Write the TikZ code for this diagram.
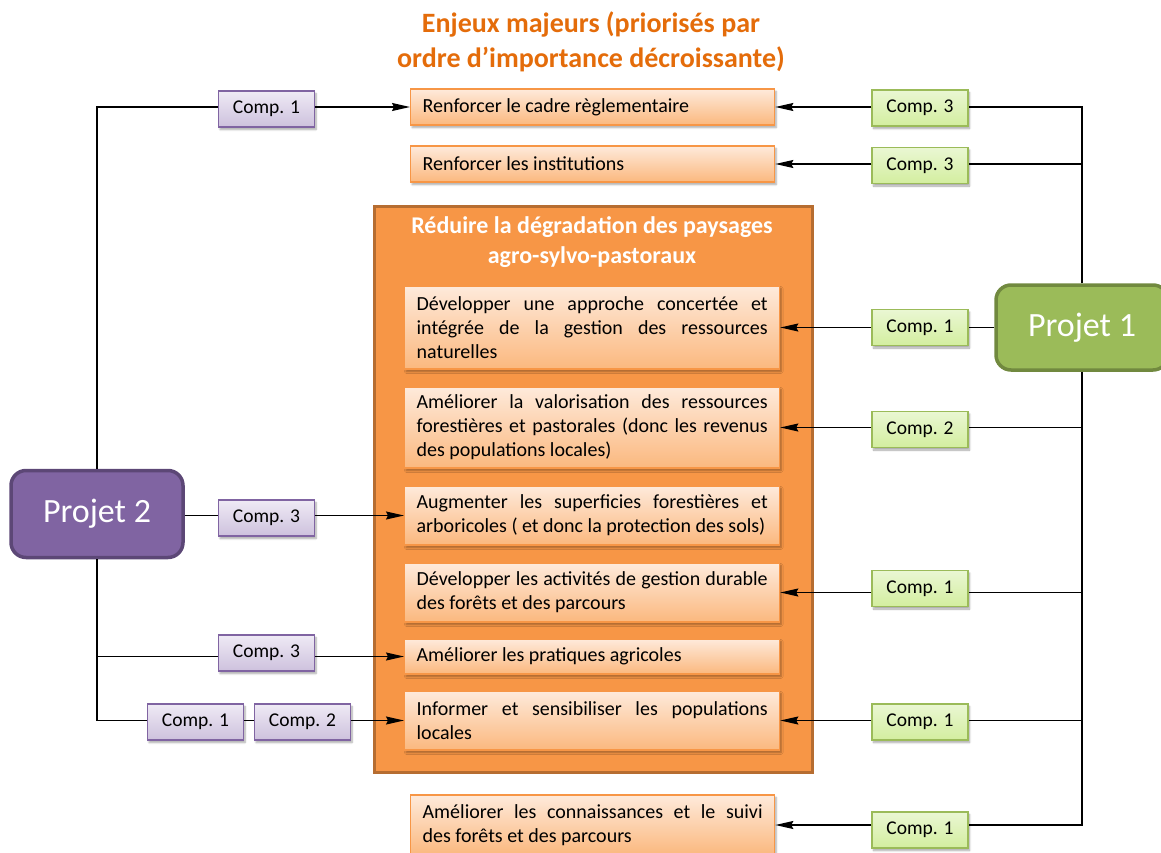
\documentclass[tikz,border=0pt]{standalone}
\usepackage{fontspec}
\setmainfont{Carlito}
\usetikzlibrary{arrows.meta,shadows.blur}
\definecolor{titleor}{HTML}{E46C0A}
\definecolor{bigfill}{HTML}{F79646}
\definecolor{bigdraw}{HTML}{B66D31}
\definecolor{ortop}{HTML}{FEEADB}
\definecolor{orbot}{HTML}{FBB87E}
\definecolor{ordraw}{HTML}{F79646}
\definecolor{grtop}{HTML}{EAF7D3}
\definecolor{grbot}{HTML}{D3EE9F}
\definecolor{grdraw}{HTML}{9BBB59}
\definecolor{putop}{HTML}{EFEAF5}
\definecolor{pubot}{HTML}{CDC1DD}
\definecolor{pudraw}{HTML}{8064A2}
\definecolor{p1fill}{HTML}{9BBB59}
\definecolor{p1draw}{HTML}{71893F}
\definecolor{p2fill}{HTML}{8064A2}
\definecolor{p2draw}{HTML}{5C4776}
\tikzset{
  conn/.style={line width=1.3pt, black},
  arr/.style={conn, -{Stealth[length=18pt,width=8pt,inset=2pt]}},
  shad/.style={blur shadow={shadow xshift=1.5pt, shadow yshift=-2.5pt, shadow blur steps=6, shadow opacity=35}},
  itembox/.style={shad, draw=ordraw, line width=1.3pt, top color=ortop, bottom color=orbot,
    align=justify, inner xsep=12pt, inner ysep=3pt, anchor=west,
    font=\fontsize{20}{24}\selectfont},
  outitem/.style={itembox, text width=340pt},
  initem/.style={itembox, text width=351pt},
  compbox/.style={shad, line width=1.3pt, minimum width=96pt, minimum height=36pt, inner sep=0pt,
    font=\fontsize{19.5}{22}\selectfont},
  compg/.style={compbox, draw=grdraw, top color=grtop, bottom color=grbot},
  compp/.style={compbox, draw=pudraw, top color=putop, bottom color=pubot},
  projbox/.style={line width=3.5pt, rounded corners=15pt, text=white, inner sep=0pt,
    font=\fontsize{34}{40}\selectfont},
  bigbox/.style={fill=bigfill, draw=bigdraw, line width=3pt, inner sep=0pt},
}
\begin{document}
\begin{tikzpicture}[x=1pt,y=-1pt]
\useasboundingbox (0,0) rectangle (1161,853);
% title
\node[text=titleor, font=\bfseries\fontsize{28}{35}\selectfont, align=center] (title) at (591,42)
  {Enjeux majeurs (priorisés par\\ordre d’importance décroissante)};
% big container
\node[bigbox, minimum width=438pt, minimum height=566pt] (big) at (593,489) {};
\node[text=white, font=\bfseries\fontsize{24}{30}\selectfont, align=center] (bigtitle) at (592,242)
  {Réduire la dégradation des paysages\\agro-sylvo-pastoraux};
% items
\node[outitem, minimum height=36pt] (b1) at (410,107) {Renforcer le cadre règlementaire};
\node[outitem, minimum height=36pt] (b2) at (410,164) {Renforcer les institutions};
\node[initem, minimum height=83pt] (b3) at (404,327.5)
  {Développer une approche concertée et\linebreak intégrée de la gestion des ressources\linebreak naturelles};
\node[initem, minimum height=81pt] (b4) at (404,427.5)
  {Améliorer la valorisation des ressources\linebreak forestières et pastorales (donc les revenus\linebreak des populations locales)};
\node[initem, minimum height=59pt] (b5) at (404,515.5)
  {Augmenter les superficies forestières et\linebreak arboricoles ( et donc la protection des sols)};
\node[initem, minimum height=59pt] (b6) at (404,592.5)
  {Développer les activités de gestion durable\linebreak des forêts et des parcours};
\node[initem, minimum height=35pt] (b7) at (404,656.5) {Améliorer les pratiques agricoles};
\node[initem, minimum height=59pt] (b8) at (404,720.5)
  {Informer et sensibiliser les populations\linebreak locales};
\node[outitem, minimum height=60pt] (b9) at (410,825)
  {Améliorer les connaissances et le suivi\linebreak des forêts et des parcours};
% projects
\node[projbox, fill=p1fill, draw=p1draw, minimum width=172pt, minimum height=85pt] (p1) at (1082,327.5) {Projet 1};
\node[projbox, fill=p2fill, draw=p2draw, minimum width=172pt, minimum height=87pt] (p2) at (97,514) {Projet 2};
% right components
\node[compg] (r1) at (920,108) {Comp. 3};
\node[compg] (r2) at (920,165.5) {Comp. 3};
\node[compg] (r3) at (920,327.5) {Comp. 1};
\node[compg] (r4) at (920,429.5) {Comp. 2};
\node[compg] (r6) at (920,588.5) {Comp. 1};
\node[compg] (r8) at (920,722) {Comp. 1};
\node[compg] (r9) at (920,830) {Comp. 1};
% left components
\node[compp] (l1) at (266.5,109) {Comp. 1};
\node[compp] (l5) at (266.5,518) {Comp. 3};
\node[compp] (l7) at (266.5,653) {Comp. 3};
\node[compp] (l8a) at (195.5,722) {Comp. 1};
\node[compp] (l8b) at (302.5,722) {Comp. 2};
% right connectors
\draw[conn] (p1.north) -- (p1.north |- b1.east) -- (r1.east |- b1.east);
\draw[conn] (p1.south) -- (p1.south |- b9.east) -- (r9.east |- b9.east);
\draw[conn] (p1.north |- b2.east) -- (r2.east |- b2.east);
\draw[conn] (p1.west |- b3.east) -- (r3.east |- b3.east);
\draw[conn] (p1.south |- b4.east) -- (r4.east |- b4.east);
\draw[conn] (p1.south |- b6.east) -- (r6.east |- b6.east);
\draw[conn] (p1.south |- b8.east) -- (r8.east |- b8.east);
\draw[arr] (r1.west |- b1.east) -- (b1.east);
\draw[arr] (r2.west |- b2.east) -- (b2.east);
\draw[arr] (r3.west |- b3.east) -- (b3.east);
\draw[arr] (r4.west |- b4.east) -- (b4.east);
\draw[arr] (r6.west |- b6.east) -- (b6.east);
\draw[arr] (r8.west |- b8.east) -- (b8.east);
\draw[arr] (r9.west |- b9.east) -- (b9.east);
% left connectors
\draw[conn] (p2.north) -- (p2.north |- b1.west) -- (l1.west |- b1.west);
\draw[arr] (l1.east |- b1.west) -- (b1.west);
\draw[conn] (p2.east |- b5.west) -- (l5.west |- b5.west);
\draw[arr] (l5.east |- b5.west) -- (b5.west);
\draw[conn] (p2.south) -- (p2.south |- b8.west) -- (l8a.west |- b8.west);
\draw[conn] (p2.south |- b7.west) -- (l7.west |- b7.west);
\draw[arr] (l7.east |- b7.west) -- (b7.west);
\draw[conn] (l8a.east |- b8.west) -- (l8b.west |- b8.west);
\draw[arr] (l8b.east |- b8.west) -- (b8.west);
\end{tikzpicture}
\end{document}
